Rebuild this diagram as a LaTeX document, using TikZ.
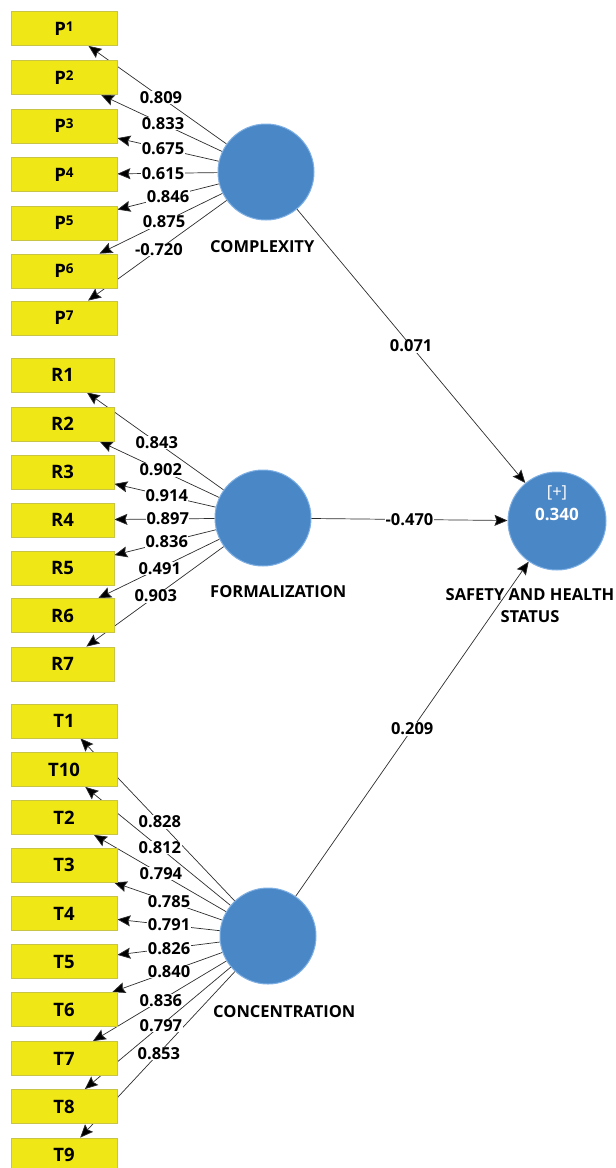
\documentclass[tikz,border=0pt]{standalone}
\usepackage{fontspec}
\setmainfont{Open Sans}
\usetikzlibrary{arrows.meta,calc,backgrounds}
\definecolor{boxfill}{RGB}{240,232,22}
\definecolor{boxline}{RGB}{200,196,70}
\definecolor{lvfill}{RGB}{74,135,198}
\definecolor{lvline}{RGB}{125,175,228}
\definecolor{edge}{RGB}{45,45,45}
\newcommand{\supdig}[1]{\raisebox{4pt}{\fontsize{13.5}{12}\selectfont #1}}
\tikzset{
  ind/.style={draw=boxline, fill=boxfill, line width=0.8pt, minimum width=106pt,
    minimum height=34pt, inner sep=0pt, font=\fontsize{18.5}{20}\selectfont\bfseries},
  indr/.style={ind, minimum width=103pt},
  lv/.style={circle, draw=lvline, fill=lvfill, line width=1pt, minimum size=96pt, inner sep=0pt},
  lvname/.style={font=\fontsize{16.5}{22}\selectfont\bfseries, inner sep=0pt},
  wt/.style={font=\fontsize{16.5}{18}\selectfont\bfseries, fill=white, inner sep=0.5pt},
  load/.style={draw=edge, line width=0.7pt,
    -{Stealth[length=13pt,width=11pt,inset=2pt,fill=black]}},
}
\begin{document}
\begin{tikzpicture}[x=1pt,y=-1pt]
\useasboundingbox (0,0) rectangle (616,1168);
\clip (0,0) rectangle (616,1168);
% latent variables
\node[lv] (CX) at (266,172) {};
\node[lv] (FO) at (263,518) {};
\node[lv] (CO) at (268,936) {};
\node[lv, minimum size=98pt] (SH) at (557,521) {};
\node[text=white, font=\fontsize{16.5}{18}\selectfont, inner sep=0pt] (SHa) at (557,493) {[+]};
\node[text=white, font=\fontsize{17}{18}\selectfont\bfseries, inner sep=0pt] (SHb) at (557,514) {0.340};
\node[lvname, anchor=west] (nCX) at (210,247) {COMPLEXITY};
\node[lvname, anchor=west] (nFO) at (210,592) {FORMALIZATION};
\node[lvname, anchor=west] (nCO) at (213,1012) {CONCENTRATION};
\node[lvname, align=center] (nSH) at (530,606) {SAFETY AND HEALTH\\STATUS};
% indicators
\node[ind] (P1) at (64,28.5) {P\supdig{1}};
\node[ind] (P2) at (64,77.5) {P\supdig{2}};
\node[ind] (P3) at (64,126) {P\supdig{3}};
\node[ind] (P4) at (64,174.5) {P\supdig{4}};
\node[ind] (P5) at (64,223) {P\supdig{5}};
\node[ind] (P6) at (64,271) {P\supdig{6}};
\node[ind] (P7) at (64,318) {P\supdig{7}};
\node[indr] (R1) at (62.5,375) {R1};
\node[indr] (R2) at (62.5,424) {R2};
\node[indr] (R3) at (62.5,472) {R3};
\node[indr] (R4) at (62.5,520) {R4};
\node[indr] (R5) at (62.5,568) {R5};
\node[indr] (R6) at (62.5,615.5) {R6};
\node[indr] (R7) at (62.5,664) {R7};
\node[ind] (T1) at (64,721) {T1};
\node[ind] (T10) at (64,769.5) {T10};
\node[ind] (T2) at (64,817.5) {T2};
\node[ind] (T3) at (64,865) {T3};
\node[ind] (T4) at (64,913.5) {T4};
\node[ind] (T5) at (64,961.5) {T5};
\node[ind] (T6) at (64,1009.5) {T6};
\node[ind] (T7) at (64,1058.5) {T7};
\node[ind] (T8) at (64,1106.5) {T8};
\node[ind] (T9) at (64,1155) {T9};
% loadings (behind the boxes)
\begin{pgfonlayer}{background}
\foreach \n in {P1,P2,P3,P4,P5,P6,P7} \draw[load] (CX) -- (\n);
\foreach \n in {R1,R2,R3,R4,R5,R6,R7} \draw[load] (FO) -- (\n);
\foreach \n in {T1,T10,T2,T3,T4,T5,T6,T7,T8,T9} \draw[load] (CO) -- (\n);
\end{pgfonlayer}
% loading labels
\node[wt] (wP1) at ($(CX)!0.52!(P1)$) {0.809};
\node[wt] (wP2) at ($(CX)!0.51!(P2)$) {0.833};
\node[wt] (wP3) at ($(CX)!0.51!(P3)$) {0.675};
\node[wt] (wP4) at ($(CX)!0.51!(P4)$) {0.615};
\node[wt] (wP5) at ($(CX)!0.485!(P5)$) {0.846};
\node[wt] (wP6) at ($(CX)!0.505!(P6)$) {0.875};
\node[wt] (wP7) at ($(CX)!0.53!(P7)$) {-0.720};
\node[wt] (wR1) at ($(FO)!0.53!(R1)$) {0.843};
\node[wt] (wR2) at ($(FO)!0.51!(R2)$) {0.902};
\node[wt] (wR3) at ($(FO)!0.48!(R3)$) {0.914};
\node[wt] (wR4) at ($(FO)!0.475!(R4)$) {0.897};
\node[wt] (wR5) at ($(FO)!0.48!(R5)$) {0.836};
\node[wt] (wR6) at ($(FO)!0.515!(R6)$) {0.491};
\node[wt] (wR7) at ($(FO)!0.535!(R7)$) {0.903};
\node[wt] (wT1) at ($(CO)!0.53!(T1)$) {0.828};
\node[wt] (wT10) at ($(CO)!0.53!(T10)$) {0.812};
\node[wt] (wT2) at ($(CO)!0.525!(T2)$) {0.794};
\node[wt] (wT3) at ($(CO)!0.485!(T3)$) {0.785};
\node[wt] (wT4) at ($(CO)!0.485!(T4)$) {0.791};
\node[wt] (wT5) at ($(CO)!0.485!(T5)$) {0.826};
\node[wt] (wT6) at ($(CO)!0.485!(T6)$) {0.840};
\node[wt] (wT7) at ($(CO)!0.525!(T7)$) {0.836};
\node[wt] (wT8) at ($(CO)!0.525!(T8)$) {0.797};
\node[wt] (wT9) at ($(CO)!0.535!(T9)$) {0.853};
% structural paths
\draw[load] (CX) -- node[wt] (s1) {0.071} (SH);
\draw[load] (FO) -- node[wt] (s2) {-0.470} (SH);
\draw[load] (CO) -- node[wt] (s3) {0.209} (SH);
\end{tikzpicture}
\end{document}
